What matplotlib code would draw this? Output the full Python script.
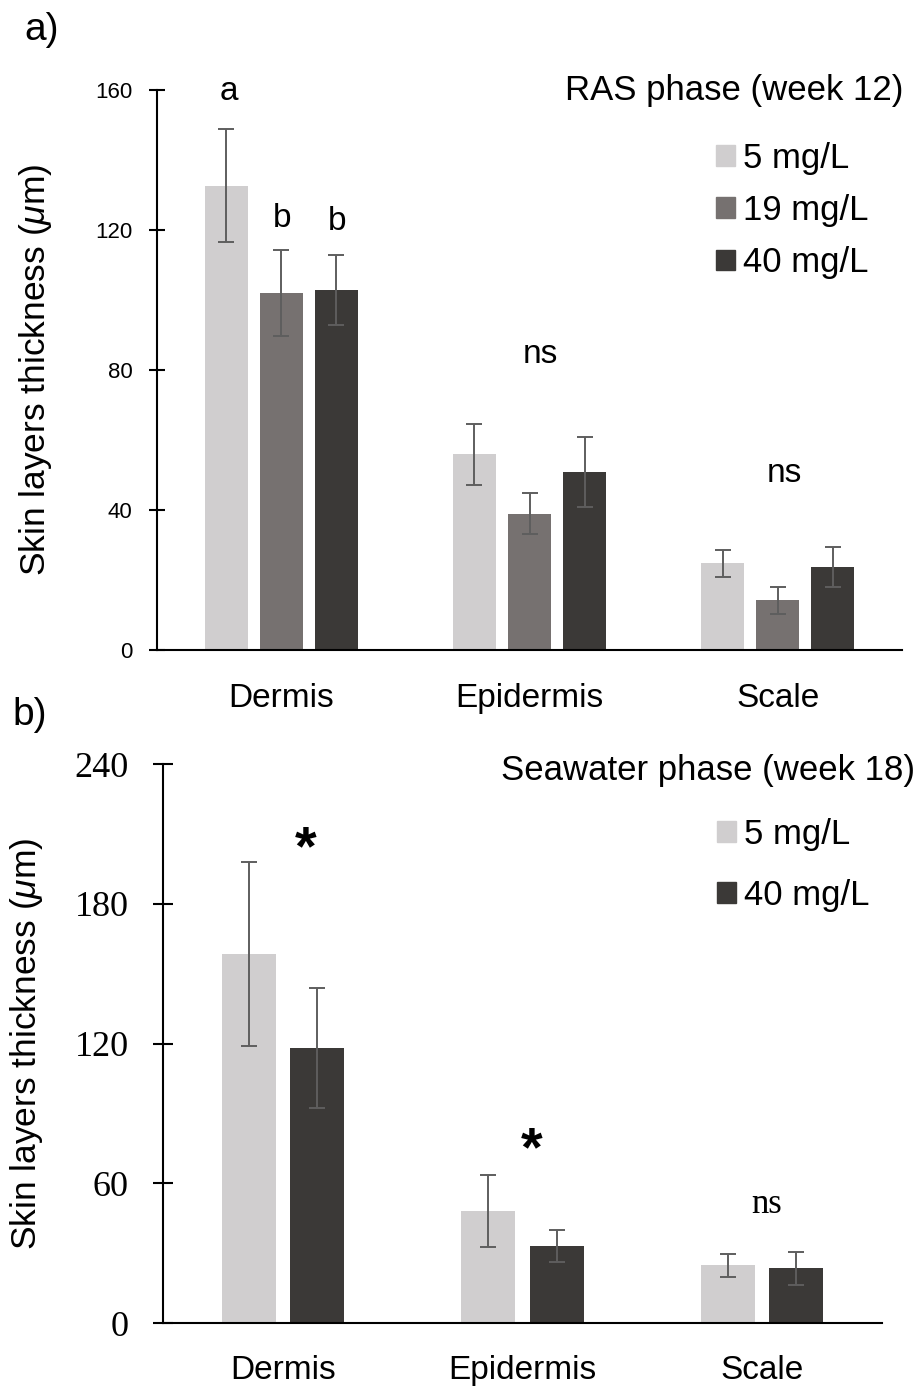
import numpy as np
import matplotlib
matplotlib.use('Agg')
import matplotlib.pyplot as plt
from matplotlib.patches import Patch

plt.rcParams['font.family'] = ['Liberation Sans', 'DejaVu Sans']
plt.rcParams['mathtext.fontset'] = 'custom'
plt.rcParams['mathtext.it'] = 'Liberation Sans:italic'
plt.rcParams['mathtext.rm'] = 'Liberation Sans'

# данные
categories = ['Dermis', 'Epidermis', 'Scale']

ras_labels = ['5 mg/L', '19 mg/L', '40 mg/L']
ras_means = [[132.7, 55.9, 24.8],
             [102.0, 39.0, 14.2],
             [103.0, 50.9, 23.7]]
ras_err = [[16.2, 8.8, 3.8],
           [12.3, 5.8, 3.8],
           [10.0, 10.0, 5.6]]
ras_marks = [('a', -0.21, 157.0), ('b', 0.005, 120.9), ('b', 0.225, 120.0),
             ('ns', 1.044, 81.9), ('ns', 2.026, 48.1)]

sw_labels = ['5 mg/L', '40 mg/L']
sw_means = [[158.5, 48.2, 24.9],
            [118.1, 33.2, 23.6]]
sw_err = [[39.4, 15.5, 5.0],
          [25.9, 6.8, 7.0]]
sw_stars = [('*', 0.096, 197.0), ('*', 1.0375, 68.0)]
sw_ns = [('ns', 2.02, 47.2)]

ras_colors = ['#D0CECF', '#767170', '#3B3937']
sw_colors = ['#D0CECF', '#3B3937']
err_kw = dict(ecolor='#5E5E5E', elinewidth=1.4, capsize=5.8, capthick=1.4)

ylabel = r'Skin layers thickness ($\mu$m)'

fig = plt.figure(figsize=(9.21, 13.89), dpi=100)
W, H = 921, 1389


def add_ax(left, right, top, bottom):
    return fig.add_axes([left / W, 1 - bottom / H, (right - left) / W, (bottom - top) / H])


def style(ax, tick_len, tick_pad, xpad):
    for s in ['top', 'right']:
        ax.spines[s].set_visible(False)
    for s in ['left', 'bottom']:
        ax.spines[s].set_linewidth(1.5)
    ax.tick_params(axis='y', direction='inout', length=tick_len, width=1.5,
                   pad=tick_pad, labelsize=16)
    ax.tick_params(axis='x', length=0, pad=xpad, labelsize=24)
    ax.set_xlim(-0.5, 2.5)
    x = np.arange(len(categories))
    ax.set_xticks(x)
    ax.set_xticklabels(categories)


# ---- a) RAS
ax1 = add_ax(157, 902, 90, 650)
x = np.arange(len(categories))
w1, off1 = 0.173, 0.2215
for i in range(3):
    ax1.bar(x + (i - 1) * off1, ras_means[i], w1, color=ras_colors[i],
            yerr=ras_err[i], error_kw=err_kw, label=ras_labels[i])
ax1.set_ylim(0, 160)
ax1.set_yticks([0, 40, 80, 120, 160])
style(ax1, 11, 12, 24)
for t, xx, yy in ras_marks:
    ax1.text(xx, yy, t, ha='center', va='baseline', fontsize=24)
ax1.text(1.0013, 0.982, 'RAS phase (week 12)', transform=ax1.transAxes,
         ha='right', va='baseline', fontsize=25)
h1 = [Patch(color=c, label=l) for c, l in zip(ras_colors, ras_labels)]
ax1.legend(handles=h1, loc='upper left', bbox_to_anchor=(0.7503, 0.907),
           frameon=False, fontsize=25, handlelength=0.55, handleheight=0.55,
           handletextpad=0.24, labelspacing=0.55, borderpad=0, borderaxespad=0)
ax1.set_ylabel(ylabel, fontsize=25.5)
ax1.yaxis.set_label_coords(-0.138, 0.5)

# ---- b) Seawater
ax2 = add_ax(163, 882, 764, 1323.3)
w2, off2 = 0.225, 0.143
for i in range(2):
    ax2.bar(x + (2 * i - 1) * off2, sw_means[i], w2, color=sw_colors[i],
            yerr=sw_err[i], error_kw=err_kw, label=sw_labels[i])
ax2.set_ylim(0, 240)
ax2.set_yticks([0, 60, 120, 180, 240])
style(ax2, 15, 17, 23)
ax2.tick_params(axis='y', labelsize=26)
for lab in ax2.get_yticklabels():
    lab.set_family('Liberation Serif')
for t, xx, yy in sw_stars:
    ax2.text(xx, yy, t, ha='center', va='baseline', fontsize=40, fontweight='bold')
for t, xx, yy in sw_ns:
    ax2.text(xx, yy, t, ha='center', va='baseline', fontsize=25, family='Liberation Serif')
ax2.text(1.046, 0.9714, 'Seawater phase (week 18)', transform=ax2.transAxes,
         ha='right', va='baseline', fontsize=25)
h2 = [Patch(color=c, label=l) for c, l in zip(sw_colors, sw_labels)]
ax2.legend(handles=h2, loc='upper left', bbox_to_anchor=(0.7705, 0.9036),
           frameon=False, fontsize=25, handlelength=0.55, handleheight=0.55,
           handletextpad=0.24, labelspacing=0.8, borderpad=0, borderaxespad=0)
ax2.set_ylabel(ylabel, fontsize=25.5)
ax2.yaxis.set_label_coords(-0.164, 0.5)

fig.text(24 / W, 1 - 12 / H, 'a)', fontsize=28, va='top', ha='left')
fig.text(12 / W, 1 - 697 / H, 'b)', fontsize=28, va='top', ha='left')

fig.savefig('out.png', dpi=100)
